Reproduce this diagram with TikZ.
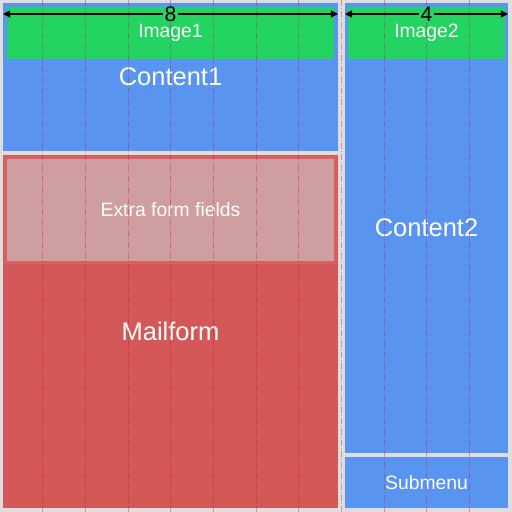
\documentclass[tikz,border=0pt]{standalone}
\usepackage{fontspec}
\setmainfont{Liberation Sans}
\usepackage{xcolor}
\usetikzlibrary{shapes,arrows.meta,positioning,calc}

\definecolor{pagegray}{RGB}{222,222,222}
\definecolor{paneblue}{RGB}{89,149,240}
\definecolor{imagegreen}{RGB}{35,212,98}
\definecolor{formred}{RGB}{212,88,88}
\definecolor{extrafill}{RGB}{207,158,160}
\definecolor{extraline}{RGB}{216,96,96}

\begin{document}
\begin{tikzpicture}[
    pane/.style={rectangle, fill=paneblue, text=white, inner sep=0pt, outer sep=0pt, font=\fontsize{14.5}{16}\selectfont},
    imagebox/.style={rectangle, fill=imagegreen, text=white, inner sep=0pt, outer sep=0pt, font=\fontsize{11}{13}\selectfont},
    formbox/.style={rectangle, fill=formred, text=white, inner sep=0pt, outer sep=0pt, font=\fontsize{14.5}{16}\selectfont},
    extrabox/.style={rectangle, draw=extraline, line width=0.06cm, fill=extrafill, text=white, inner sep=0pt, font=\fontsize{11}{13}\selectfont},
    menubox/.style={rectangle, fill=paneblue, text=white, inner sep=0pt, outer sep=0pt, font=\fontsize{11}{13}\selectfont},
    gridline/.style={red!80!blue, opacity=0.35, line width=0.02cm, dash pattern=on 0.12cm off 0.04cm on 0.02cm off 0.04cm},
    width/.style={font=\fontsize{12}{14}\selectfont, inner sep=1pt},
    dim/.style={-{Triangle[length=4pt,width=4pt]}, line width=0.6pt}
]

% Page
\fill[pagegray] (0,0) rectangle (10.24,-10.24);
\useasboundingbox (0,0) rectangle (10.24,-10.24);

% Left column: 8 units
\node[pane, minimum width=6.70cm, minimum height=2.96cm] (content1) at (3.41,-1.54) {Content1};
\node[formbox, minimum width=6.70cm, minimum height=7.06cm] (mailform) at (3.41,-6.63) {Mailform};
\node[extrabox, minimum width=6.60cm, minimum height=2.10cm] (extra) at (3.41,-4.20) {Extra form fields};
\node[imagebox, minimum width=6.54cm, minimum height=1.04cm] (image1) at (3.41,-0.66) {Image1};

% Right column: 4 units
\node[pane, minimum width=3.26cm, minimum height=9.00cm] (content2) at (8.53,-4.56) {Content2};
\node[menubox, minimum width=3.26cm, minimum height=1.02cm] (submenu) at (8.53,-9.65) {Submenu};
\node[imagebox, minimum width=3.14cm, minimum height=1.04cm] (image2) at (8.53,-0.66) {Image2};

% 12 column grid
\foreach \k in {1,...,11}
    \draw[gridline] ({0.85333*\k},0) -- ({0.85333*\k},-10.24);

% Column widths
\node[width] (w8) at (3.41,-0.28) {8};
\node[width] (w4) at (8.53,-0.28) {4};
\draw[dim] (w8) -- (content1.west |- w8);
\draw[dim] (w8) -- (content1.east |- w8);
\draw[dim] (w4) -- (content2.west |- w4);
\draw[dim] (w4) -- (content2.east |- w4);

\end{tikzpicture}
\end{document}
